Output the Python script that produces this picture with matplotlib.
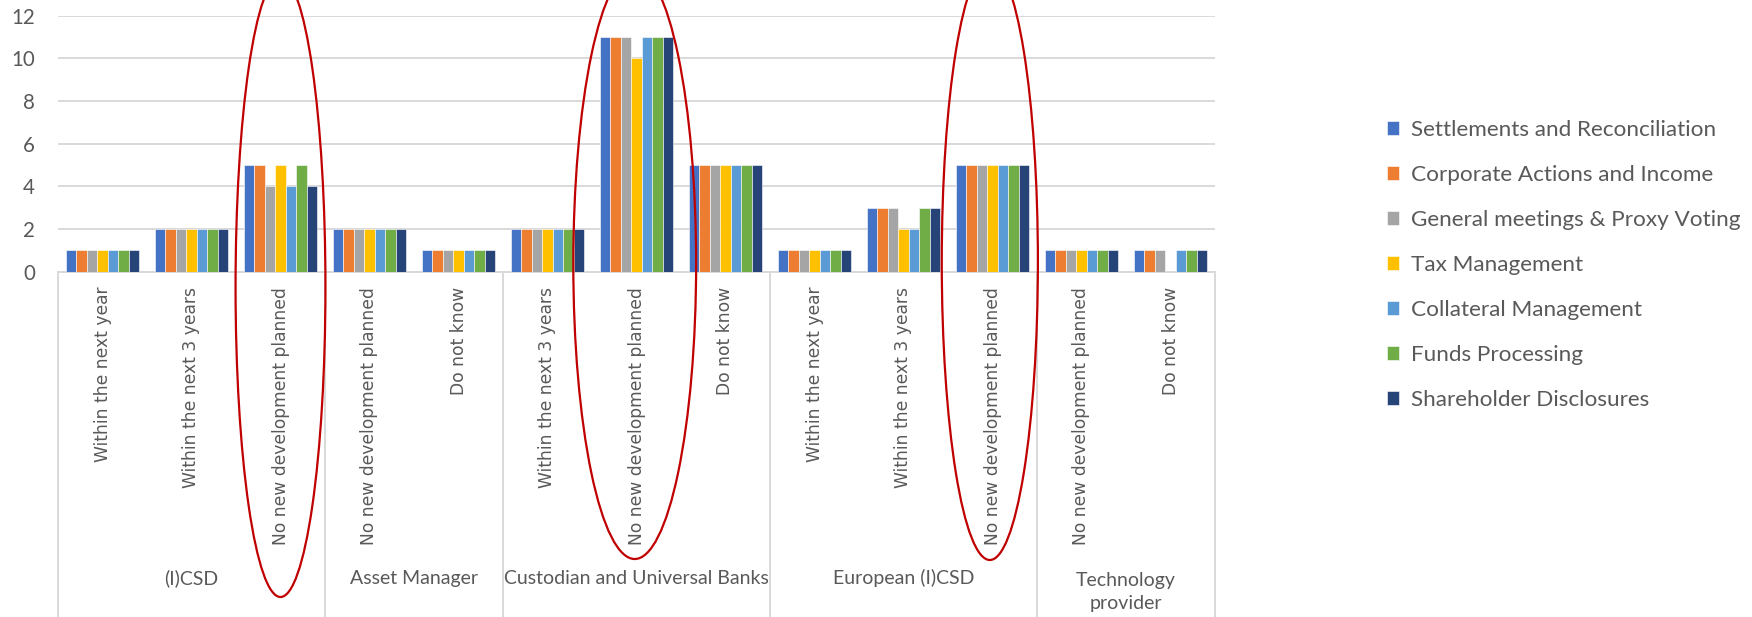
import matplotlib
matplotlib.use("Agg")
import matplotlib.pyplot as plt
import matplotlib.transforms as mtransforms
from matplotlib.patches import Ellipse
import numpy as np

# ---------------- data ----------------
categories = ["Within the next year", "Within the next 3 years", "No new development planned",
              "No new development planned", "Do not know",
              "Within the next 3 years", "No new development planned", "Do not know",
              "Within the next year", "Within the next 3 years", "No new development planned",
              "No new development planned", "Do not know"]
groups = ["(I)CSD", "Asset Manager", "Custodian and Universal Banks", "European (I)CSD",
          "Technology\nprovider"]
group_sizes = [3, 2, 3, 3, 2]

series_names = ["Settlements and Reconciliation", "Corporate Actions and Income",
                "General meetings & Proxy Voting", "Tax Management",
                "Collateral Management", "Funds Processing", "Shareholder Disclosures"]
settlements = [1, 2, 5, 2, 1, 2, 11, 5, 1, 3, 5, 1, 1]
corporate   = [1, 2, 5, 2, 1, 2, 11, 5, 1, 3, 5, 1, 1]
general     = [1, 2, 4, 2, 1, 2, 11, 5, 1, 3, 5, 1, 1]
tax         = [1, 2, 5, 2, 1, 2, 10, 5, 1, 2, 5, 1, 0]
collateral  = [1, 2, 4, 2, 1, 2, 11, 5, 1, 2, 5, 1, 1]
funds       = [1, 2, 5, 2, 1, 2, 11, 5, 1, 3, 5, 1, 1]
shareholder = [1, 2, 4, 2, 1, 2, 11, 5, 1, 3, 5, 1, 1]
series_values = [settlements, corporate, general, tax, collateral, funds, shareholder]
colors = ["#4472C4", "#ED7D31", "#A5A5A5", "#FFC000", "#5B9BD5", "#70AD47", "#264478"]

highlighted = [2, 6, 10]  # categories circled in red

# ---------------- figure ----------------
W, H = 1752, 617
fig = plt.figure(figsize=(W / 100, H / 100), dpi=100)
ax_l, ax_r, ax_t, ax_b = 58, 1215, 15.6, 271.5
ax = fig.add_axes([ax_l / W, 1 - ax_b / H, (ax_r - ax_l) / W, (ax_b - ax_t) / H])

text_col = "#595959"
grid_col = "#D9D9D9"

x = np.arange(len(categories))
n = len(series_values)
bw = 0.117
for i, (vals, c, name) in enumerate(zip(series_values, colors, series_names)):
    ax.bar(x + (i - (n - 1) / 2) * bw, vals, width=bw, color=c, label=name,
           edgecolor="white", linewidth=0.4, zorder=3)

ax.set_xlim(-0.5, len(categories) - 0.5)
ax.set_ylim(0, 12)
ax.set_yticks(range(0, 13, 2))
ax.yaxis.grid(True, color=grid_col, linewidth=1.4, zorder=0)
ax.set_axisbelow(True)
for s in ["top", "right", "left"]:
    ax.spines[s].set_visible(False)
ax.spines["bottom"].set_color(grid_col)
ax.spines["bottom"].set_linewidth(1.4)
ax.tick_params(axis="y", length=0, pad=16.5, labelsize=14.8, labelcolor=text_col)
for lab in ax.get_yticklabels():
    lab.set_family("Lato")

ax.set_xticks(x)
ax.set_xticklabels(categories, rotation=90, fontsize=12.3, color=text_col,
                   family="DejaVu Sans", va="top", ha="center")
ax.tick_params(axis="x", length=0, pad=11)

# group separators and labels
trans = mtransforms.blended_transform_factory(ax.transData, ax.transAxes)
bottom_frac = -(H - ax_b) / (ax_b - ax_t) - 0.05
bounds = np.concatenate([[0], np.cumsum(group_sizes)]) - 0.5
for b in bounds:
    ax.plot([b, b], [0, bottom_frac], transform=trans, clip_on=False,
            color=grid_col, linewidth=1.4, zorder=1)
for g, lo, hi in zip(groups, bounds[:-1], bounds[1:]):
    yc = 578 if "\n" not in g else 592
    ax.text((lo + hi) / 2, -(yc - ax_b) / (ax_b - ax_t), g, transform=trans,
            ha="center", va="center", fontsize=14, color=text_col, family="Lato",
            linespacing=1.38)

# red ellipses around highlighted categories (data coords, y units)
px_per_unit = (ax_b - ax_t) / 12
ell_specs = [(0.0, 1.01, 287, 310), (-0.02, 1.38, 264, 295), (-0.03, 1.08, 262, 298)]
for idx, (dx, wd, cy_px, b_px) in zip(highlighted, ell_specs):
    cy = (ax_b - cy_px) / px_per_unit
    e = Ellipse((idx + dx, cy), wd, 2 * b_px / px_per_unit, fill=False,
                edgecolor="#C00000", linewidth=1.6, clip_on=False, zorder=6)
    ax.add_patch(e)

# legend
fs = 16.2
fs_px = fs * 100 / 72
leg = fig.legend(loc="center left", bbox_to_anchor=(1387 / W, 1 - 265 / H),
                 frameon=False, handlelength=12 / fs_px, handleheight=12 / fs_px,
                 handletextpad=12 / fs_px, labelspacing=1.11, borderpad=0,
                 borderaxespad=0, prop={"family": "Lato", "size": fs})
for t in leg.get_texts():
    t.set_color(text_col)

fig.savefig("out.png", dpi=100)
